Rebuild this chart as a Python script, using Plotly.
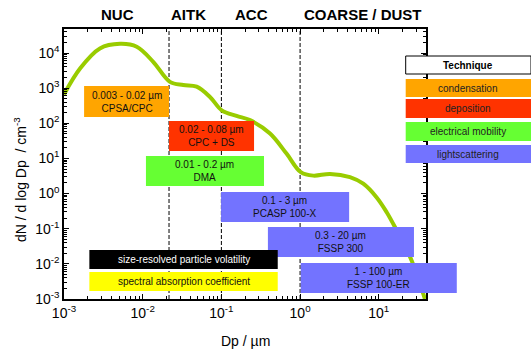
import numpy as np
import plotly.graph_objects as go

FONT = "Liberation Sans, Arial, sans-serif"

# ---- size distribution curve ----
dp = [0.001, 0.0016, 0.00286, 0.00515, 0.0084, 0.0136, 0.0222, 0.0328, 0.0485,
      0.0716, 0.101, 0.156, 0.231, 0.415, 0.676, 1.02, 1.47, 2.4, 4.3, 6.35,
      9.4, 12.6, 16.1, 26.2, 38.6]
dn = [661, 3630, 13500, 18200, 15100, 5620, 1510, 1230, 1100,
      562, 234, 162, 123, 51.3, 13.5, 4.07, 3.24, 3.63, 2.95, 1.91,
      0.776, 0.295, 0.11, 0.0123, 0.001]

# ---- mode boundaries and labels ----
mode_bounds = [0.0216, 0.1, 1.0]
mode_names = ["NUC", "AITK", "ACC", "COARSE / DUST"]
mode_label_x = [0.00479, 0.0386, 0.241, 6.35]

# ---- instrument ranges (boxes) ----
inst_labels = ["0.003 - 0.02 \u00b5m<br>CPSA/CPC", "0.02 - 0.08 \u00b5m<br>CPC + DS",
               "0.01 - 0.2 \u00b5m<br>DMA", "0.1 - 3 \u00b5m<br>PCASP 100-X",
               "0.3 - 20 \u00b5m<br>FSSP 300", "1 - 100 \u00b5m<br>FSSP 100-ER",
               "size-resolved particle volatility", "spectral absorption coefficient"]
inst_xmin = [0.0018, 0.0216, 0.011, 0.099, 0.39, 1.02, 0.0021, 0.0021]
inst_xmax = [0.0216, 0.26, 0.348, 4.2, 28, 98, 0.52, 0.52]
inst_ymin = [151, 16.3, 1.64, 0.155, 0.0157, 0.00148, 0.00713, 0.00169]
inst_ymax = [1150, 116, 11.7, 1.11, 0.112, 0.0106, 0.0248, 0.00586]
inst_colors = ["#FFA500", "#FF3300", "#66FF33", "#7373FF", "#7373FF", "#7373FF",
               "#000000", "#FFFF00"]
inst_text_colors = ["#111111"] * 6 + ["#FFFFFF", "#111111"]

# ---- technique legend ----
tech_names = ["condensation", "deposition", "electrical mobility", "lightscattering"]
tech_colors = ["#FFA500", "#FF3300", "#66FF33", "#7373FF"]

x_ticks = [1e-3, 1e-2, 1e-1, 1e0, 1e1]
x_ticktext = ["10<sup>-3</sup>", "10<sup>-2</sup>", "10<sup>-1</sup>", "10<sup>0</sup>", "10<sup>1</sup>"]
y_ticks = [1e-3, 1e-2, 1e-1, 1e0, 1e1, 1e2, 1e3, 1e4]
y_ticktext = ["10<sup>-3</sup>", "10<sup>-2</sup>", "10<sup>-1</sup>", "10<sup>0</sup>",
              "10<sup>1</sup>", "10<sup>2</sup>", "10<sup>3</sup>", "10<sup>4</sup>"]

# ---- layout geometry ----
W, H = 531, 352
ML, MR, MT, MB = 64, 0, 29, 53
AX_RIGHT = 426
plot_w = W - ML - MR
plot_h = H - MT - MB
x_dom_end = (AX_RIGHT - ML) / plot_w
x_range = [-3, 1.6]
x2_range = [x_range[0], x_range[0] + (x_range[1] - x_range[0]) / x_dom_end]
y_range = [-3, 4.683]

def px_x(p):
    return (p - ML) / plot_w

def px_y(p):
    return (H - MB - p) / plot_h

fig = go.Figure()

fig.add_trace(go.Scatter(x=dp, y=dn, mode="lines",
                         line=dict(color="#99CC00", width=4, shape="spline", smoothing=1),
                         xaxis="x", yaxis="y", hoverinfo="skip", showlegend=False))

annotations = []
for lab, x0, x1, y0, y1, c, tc in zip(inst_labels, inst_xmin, inst_xmax, inst_ymin,
                                      inst_ymax, inst_colors, inst_text_colors):
    fig.add_trace(go.Scatter(x=[x0, x1, x1, x0, x0], y=[y0, y0, y1, y1, y0],
                             mode="lines", fill="toself", fillcolor=c,
                             line=dict(width=0, color=c),
                             xaxis="x2", yaxis="y2", hoverinfo="skip", showlegend=False))
    annotations.append(dict(xref="x2", yref="y2",
                            x=(np.log10(x0) + np.log10(x1)) / 2,
                            y=(np.log10(y0) + np.log10(y1)) / 2,
                            xanchor="center", yanchor="middle",
                            text=lab, showarrow=False,
                            font=dict(family=FONT, size=10, color=tc)))

shapes = []
for b in mode_bounds:
    shapes.append(dict(type="line", xref="x", yref="paper", x0=b, x1=b, y0=0, y1=1,
                       line=dict(color="black", width=1, dash="4px,2px"), layer="below"))

for name, xl in zip(mode_names, mode_label_x):
    annotations.append(dict(xref="x", yref="paper", x=np.log10(xl), y=px_y(14.2),
                            text="<b>%s</b>" % name, showarrow=False,
                            xanchor="center", yanchor="middle",
                            font=dict(family=FONT, size=15, color="black")))

# legend boxes
leg_x0, leg_x1 = px_x(405.7), px_x(531)
leg_rows = [(56, 74), (79, 97), (99, 118), (122, 141), (145, 163)]
shapes.append(dict(type="rect", xref="paper", yref="paper", x0=leg_x0, x1=leg_x1,
                   y0=px_y(leg_rows[0][1]), y1=px_y(leg_rows[0][0]),
                   fillcolor="white", line=dict(color="black", width=1), layer="above"))
annotations.append(dict(xref="paper", yref="paper", x=(leg_x0 + leg_x1) / 2,
                        y=px_y(sum(leg_rows[0]) / 2), text="<b>Technique</b>",
                        xanchor="center", yanchor="middle",
                        showarrow=False, font=dict(family=FONT, size=10, color="black")))
for (t, b), name, c in zip(leg_rows[1:], tech_names, tech_colors):
    shapes.append(dict(type="rect", xref="paper", yref="paper", x0=leg_x0, x1=leg_x1,
                       y0=px_y(b), y1=px_y(t), fillcolor=c, line=dict(width=0),
                       layer="above"))
    annotations.append(dict(xref="paper", yref="paper", x=(leg_x0 + leg_x1) / 2,
                            y=px_y((t + b) / 2), text=name, showarrow=False,
                            xanchor="center", yanchor="middle",
                            font=dict(family=FONT, size=10, color="#222222")))

# axis titles
annotations.append(dict(xref="paper", yref="paper", x=px_x(245), y=px_y(341),
                        text="Dp / \u00b5m", showarrow=False,
                        xanchor="center", yanchor="middle",
                        font=dict(family=FONT, size=14, color="black")))
annotations.append(dict(xref="paper", yref="paper", x=px_x(20), y=px_y(180),
                        text="dN / d log Dp  / cm<sup>-3</sup>", showarrow=False,
                        xanchor="center", yanchor="middle",
                        textangle=-90, font=dict(family=FONT, size=14, color="black")))

x_minor = [m * 10 ** e for e in range(-3, 2) for m in range(2, 10)]
y_minor = [m * 10 ** e for e in range(-3, 5) for m in range(2, 10)]

axis_common = dict(type="log", showline=True, linecolor="black", linewidth=1.5,
                   mirror="allticks", ticks="inside", ticklen=5, tickwidth=1,
                   tickcolor="black", tickmode="array", showgrid=False, zeroline=False,
                   tickfont=dict(family=FONT, size=14, color="black"))

fig.update_layout(
    width=W, height=H, autosize=False,
    margin=dict(l=ML, r=MR, t=MT, b=MB, pad=0),
    paper_bgcolor="white", plot_bgcolor="rgba(0,0,0,0)",
    showlegend=False,
    xaxis=dict(axis_common, range=x_range, domain=[0, x_dom_end], anchor="y",
               tickvals=x_ticks, ticktext=x_ticktext,
               minor=dict(tickmode="array", tickvals=x_minor, ticks="inside", ticklen=3,
                          tickcolor="black", tickwidth=1, showgrid=False)),
    xaxis2=dict(type="log", range=x2_range, domain=[0, 1], anchor="y2", visible=False,
                showgrid=False, zeroline=False),
    yaxis=dict(axis_common, range=y_range, domain=[0, 1], anchor="x",
               tickvals=y_ticks, ticktext=y_ticktext,
               minor=dict(tickmode="array", tickvals=y_minor, ticks="inside", ticklen=3,
                          tickcolor="black", tickwidth=1, showgrid=False)),
    yaxis2=dict(type="log", range=y_range, domain=[0, 1], anchor="x2", overlaying="y",
                visible=False, showgrid=False, zeroline=False),
    shapes=shapes,
    annotations=annotations,
)

fig.write_html("out.html")
